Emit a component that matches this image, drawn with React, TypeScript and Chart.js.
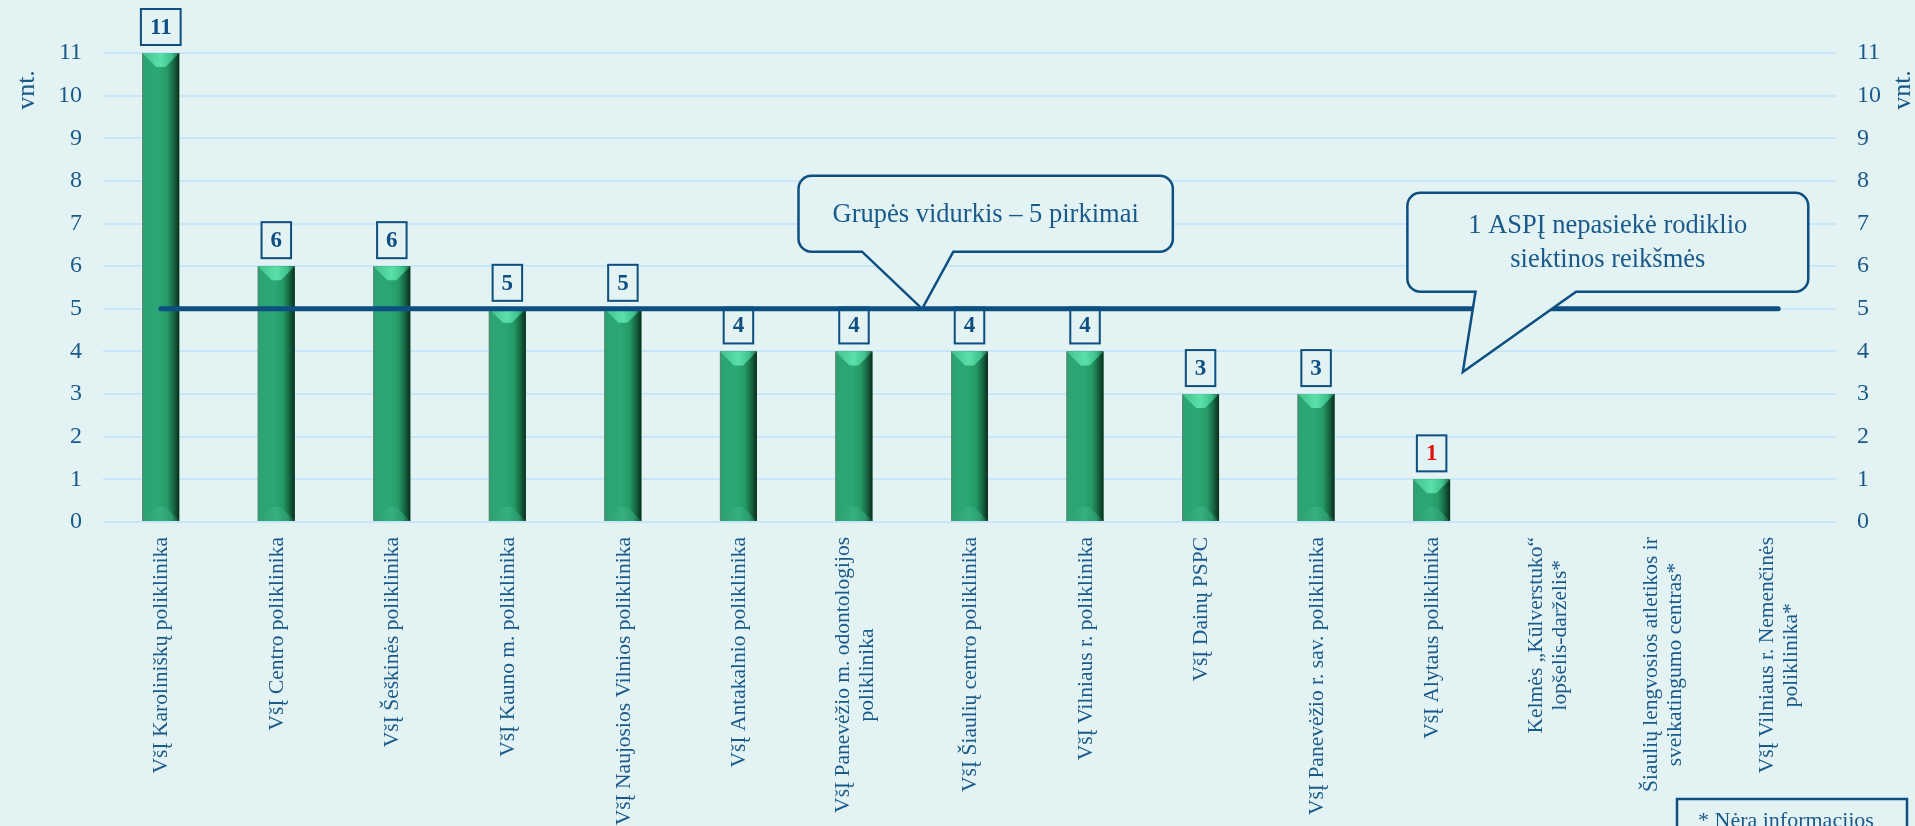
import React, { useEffect, useRef } from 'react';
import { Chart, registerables } from 'chart.js';

Chart.register(...registerables);

// ---------- data ----------
const categories: string[][] = [
  ['VšĮ Karoliniškų poliklinika'],
  ['VšĮ Centro poliklinika'],
  ['VšĮ Šeškinės poliklinika'],
  ['VšĮ Kauno m. poliklinika'],
  ['VšĮ Naujosios Vilnios poliklinika'],
  ['VšĮ Antakalnio poliklinika'],
  ['VšĮ Panevėžio m. odontologijos', 'poliklinika'],
  ['VšĮ Šiaulių centro poliklinika'],
  ['VšĮ Vilniaus r. poliklinika'],
  ['VšĮ Dainų PSPC'],
  ['VšĮ Panevėžio r. sav. poliklinika'],
  ['VšĮ Alytaus poliklinika'],
  ['Kelmės „Kūlverstuko“', 'lopšelis-darželis*'],
  ['Šiaulių lengvosios atletikos ir', 'sveikatingumo centras*'],
  ['VšĮ Vilniaus r. Nemenčinės', 'poliklinika*'],
];
const purchases: (number | null)[] = [11, 6, 6, 5, 5, 4, 4, 4, 4, 3, 3, 1, null, null, null];
const groupAverage: number[] = [5, 5, 5, 5, 5, 5, 5, 5, 5, 5, 5, 5, 5, 5, 5];
const yMin = 0;
const yMax = 11;
const yStep = 1;
const highlightedIndex = 11;
const axisTitle = 'vnt.';
const averageNote = ['Grupės vidurkis – 5 pirkimai'];
const targetNote = ['1 ASPĮ nepasiekė rodiklio', 'siektinos reikšmės'];
const footnote = '* Nėra informacijos';

// ---------- styles ----------
const BG = '#e3f2f3';
const TEXT = '#1a5a8b';
const DARK = '#0c4f80';
const GRID = '#c8e6f8';
const RED = '#e00d0d';
const SERIF = '"Liberation Serif", "Times New Roman", serif';

type Bubble = {
  lines: string[];
  left: number; right: number; top: number; bottom: number; // data coords (category index / value)
  baseL: number; baseR: number; tipX: number; tipY: number;
};

const bubbles: Bubble[] = [
  { lines: averageNote, left: 5.52, right: 8.76, top: 8.12, bottom: 6.34, baseL: 6.07, baseR: 6.86, tipX: 6.59, tipY: 5 },
  { lines: targetNote, left: 10.79, right: 14.26, top: 7.72, bottom: 5.4, baseL: 11.38, baseR: 12.25, tipX: 11.27, tipY: 3.52 },
];

function drawBevelBar(ctx: CanvasRenderingContext2D, left: number, right: number, top: number, bottom: number) {
  const w = right - left;
  const h = bottom - top;
  if (h <= 0) return;
  const b = Math.min(14, w / 2.6, h / 2);
  const g = ctx.createLinearGradient(left, 0, right, 0);
  g.addColorStop(0, '#3f8f6d');
  g.addColorStop(0.06, '#2ba474');
  g.addColorStop(0.45, '#2aa874');
  g.addColorStop(0.68, '#259a66');
  g.addColorStop(0.86, '#166440');
  g.addColorStop(1, '#0a2c1b');
  ctx.fillStyle = g;
  ctx.fillRect(left, top, w, h);

  // top bevel
  const tg = ctx.createLinearGradient(left, 0, right, 0);
  tg.addColorStop(0, '#46c08e');
  tg.addColorStop(0.5, '#5ae0a8');
  tg.addColorStop(0.8, '#3fc18b');
  tg.addColorStop(1, '#1c6b47');
  ctx.fillStyle = tg;
  ctx.beginPath();
  ctx.moveTo(left, top);
  ctx.lineTo(right, top);
  ctx.lineTo(right - b, top + b);
  ctx.lineTo(left + b, top + b);
  ctx.closePath();
  ctx.fill();

  // bottom bevel
  const bg = ctx.createLinearGradient(left, 0, right, 0);
  bg.addColorStop(0, '#2f9f70');
  bg.addColorStop(0.5, '#34b07e');
  bg.addColorStop(0.8, '#2a9c6a');
  bg.addColorStop(1, '#13482f');
  ctx.fillStyle = bg;
  ctx.beginPath();
  ctx.moveTo(left, bottom);
  ctx.lineTo(right, bottom);
  ctx.lineTo(right - b, bottom - b);
  ctx.lineTo(left + b, bottom - b);
  ctx.closePath();
  ctx.fill();

  ctx.strokeStyle = 'rgba(90,140,115,0.9)';
  ctx.lineWidth = 1;
  ctx.beginPath();
  ctx.moveTo(left + 0.5, top);
  ctx.lineTo(left + 0.5, bottom);
  ctx.stroke();
}

const decorPlugin = {
  id: 'decor',
  beforeDraw(chart: any) {
    const { ctx, width, height } = chart;
    ctx.save();
    ctx.fillStyle = BG;
    ctx.fillRect(0, 0, width, height);
    ctx.restore();
  },
  afterDatasetDraw(chart: any, args: any) {
    if (args.meta.type !== 'bar') return;
    const ctx: CanvasRenderingContext2D = chart.ctx;
    ctx.save();
    args.meta.data.forEach((el: any, i: number) => {
      const v = purchases[i];
      if (v === null || v === undefined) return;
      const p = el.getProps(['x', 'y', 'base', 'width'], true);
      const left = p.x - p.width / 2;
      const right = p.x + p.width / 2;
      drawBevelBar(ctx, left, right, p.y, p.base);

      // value box
      const txt = String(v);
      ctx.font = `bold 23px ${SERIF}`;
      const tw = ctx.measureText(txt).width;
      const bw = tw + 18;
      const bh = 36;
      const bx = p.x - bw / 2;
      const by = p.y - 8 - bh;
      ctx.fillStyle = BG;
      ctx.fillRect(bx, by, bw, bh);
      ctx.strokeStyle = DARK;
      ctx.lineWidth = 2;
      ctx.strokeRect(bx, by, bw, bh);
      ctx.fillStyle = i === highlightedIndex ? RED : DARK;
      ctx.textAlign = 'center';
      ctx.textBaseline = 'middle';
      ctx.fillText(txt, p.x, by + bh / 2 + 1);
    });
    ctx.restore();
  },
  afterDatasetsDraw(chart: any) {
    const ctx: CanvasRenderingContext2D = chart.ctx;
    const xs = chart.scales.x;
    const ys = chart.scales.y;
    const area = chart.chartArea;
    ctx.save();

    // category labels
    ctx.fillStyle = TEXT;
    ctx.font = `21.5px ${SERIF}`;
    ctx.textBaseline = 'middle';
    ctx.textAlign = 'center';
    const lh = 24;
    categories.forEach((lines, i) => {
      const x = xs.getPixelForValue(i);
      const W = Math.max(...lines.map((l) => ctx.measureText(l).width));
      ctx.save();
      ctx.translate(x, area.bottom + 15);
      ctx.rotate(-Math.PI / 2);
      lines.forEach((l, j) => {
        const off = (j - (lines.length - 1) / 2) * lh;
        ctx.fillText(l, -W / 2, off + 1);
      });
      ctx.restore();
    });

    // axis titles
    ctx.font = `26px ${SERIF}`;
    [area.left - 76, area.right + 67].forEach((x) => {
      ctx.save();
      ctx.translate(x, area.top + 37);
      ctx.rotate(-Math.PI / 2);
      ctx.textAlign = 'center';
      ctx.textBaseline = 'middle';
      ctx.fillText(axisTitle, 0, 0);
      ctx.restore();
    });

    // callout bubbles
    bubbles.forEach((bb) => {
      const L = xs.getPixelForValue(bb.left);
      const R = xs.getPixelForValue(bb.right);
      const T = ys.getPixelForValue(bb.top);
      const B = ys.getPixelForValue(bb.bottom);
      const bl = xs.getPixelForValue(bb.baseL);
      const br = xs.getPixelForValue(bb.baseR);
      const tx = xs.getPixelForValue(bb.tipX);
      const ty = ys.getPixelForValue(bb.tipY);
      const r = 13;
      ctx.beginPath();
      ctx.moveTo(L + r, T);
      ctx.lineTo(R - r, T);
      ctx.arcTo(R, T, R, T + r, r);
      ctx.lineTo(R, B - r);
      ctx.arcTo(R, B, R - r, B, r);
      ctx.lineTo(br, B);
      ctx.lineTo(tx, ty);
      ctx.lineTo(bl, B);
      ctx.lineTo(L + r, B);
      ctx.arcTo(L, B, L, B - r, r);
      ctx.lineTo(L, T + r);
      ctx.arcTo(L, T, L + r, T, r);
      ctx.closePath();
      ctx.fillStyle = BG;
      ctx.fill();
      ctx.strokeStyle = DARK;
      ctx.lineWidth = 2.5;
      ctx.lineJoin = 'miter';
      ctx.stroke();

      ctx.fillStyle = TEXT;
      ctx.font = `26.5px ${SERIF}`;
      ctx.textAlign = 'center';
      ctx.textBaseline = 'middle';
      const cx = (L + R) / 2;
      const cy = (T + B) / 2;
      const blh = 34;
      bb.lines.forEach((l, j) => {
        ctx.fillText(l, cx, cy + (j - (bb.lines.length - 1) / 2) * blh + 1);
      });
    });

    // footnote box
    const fl = area.right - 159;
    const ft = 799;
    ctx.strokeStyle = DARK;
    ctx.lineWidth = 2.5;
    ctx.strokeRect(fl, ft, 230, 60);
    ctx.fillStyle = TEXT;
    ctx.font = `22px ${SERIF}`;
    ctx.textAlign = 'left';
    ctx.textBaseline = 'alphabetic';
    ctx.fillText(footnote, fl + 21, 827);

    ctx.restore();
  },
};

export default function App() {
  const ref = useRef<HTMLCanvasElement | null>(null);

  useEffect(() => {
    document.body.style.margin = '0';
    document.body.style.overflow = 'hidden';
    if (!ref.current) return;
    const tickFont = { family: SERIF, size: 24 };
    const chart = new Chart(ref.current, {
      type: 'bar',
      data: {
        labels: categories.map((c) => c.join(' ')),
        datasets: [
          {
            type: 'bar',
            label: 'Pirkimai',
            data: purchases as any,
            backgroundColor: '#2aa874',
            borderWidth: 0,
            barPercentage: 0.32,
            categoryPercentage: 1,
            yAxisID: 'y',
            order: 1,
          },
          {
            type: 'line',
            label: 'Grupės vidurkis',
            data: groupAverage,
            borderColor: DARK,
            borderWidth: 5,
            borderCapStyle: 'round',
            pointRadius: 0,
            fill: false,
            yAxisID: 'y',
            order: 0,
          } as any,
        ],
      },
      options: {
        animation: false,
        responsive: true,
        maintainAspectRatio: false,
        devicePixelRatio: 1,
        layout: { padding: { top: 53, bottom: 304, left: 0, right: 0 } },
        plugins: { legend: { display: false }, tooltip: { enabled: false } },
        events: [],
        scales: {
          x: {
            type: 'category',
            display: false,
            offset: true,
            grid: { display: false },
          },
          y: {
            position: 'left',
            min: yMin,
            max: yMax,
            ticks: { stepSize: yStep, font: tickFont, color: TEXT, padding: 21 },
            grid: { color: GRID, lineWidth: 2, drawTicks: false },
            border: { display: false },
            afterFit: (s: any) => { s.width = 103; },
          },
          y2: {
            position: 'right',
            min: yMin,
            max: yMax,
            ticks: { stepSize: yStep, font: tickFont, color: TEXT, padding: 21 },
            grid: { display: false, drawTicks: false },
            border: { display: false },
            afterFit: (s: any) => { s.width = 79; },
          },
        },
      } as any,
      plugins: [decorPlugin],
    });
    return () => chart.destroy();
  }, []);

  return (
    <div style={{ width: 1915, height: 826, position: 'relative', background: BG }}>
      <canvas ref={ref} />
    </div>
  );
}
